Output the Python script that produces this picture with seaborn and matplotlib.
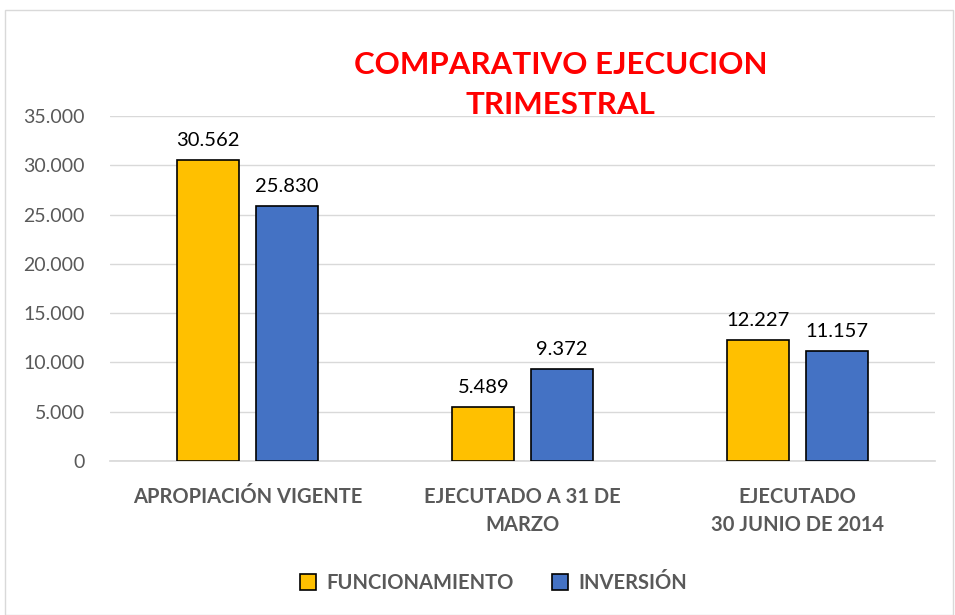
import pandas as pd
import matplotlib.pyplot as plt
import seaborn as sns
from matplotlib.ticker import FuncFormatter
from matplotlib.patches import Rectangle

# Data
categorias = ['APROPIACIÓN VIGENTE', 'EJECUTADO A 31 DE\nMARZO', 'EJECUTADO\n30 JUNIO DE 2014']
funcionamiento = [30562, 5489, 12227]
inversion = [25830, 9372, 11157]
series = ['FUNCIONAMIENTO', 'INVERSIÓN']
colores = ['#FFC000', '#4472C4']

df = pd.DataFrame({
    'categoria': categorias * 2,
    'serie': [series[0]] * 3 + [series[1]] * 3,
    'valor': funcionamiento + inversion,
})

sns.set_theme(style='white')
plt.rcParams['font.family'] = ['Lato', 'DejaVu Sans']

fig = plt.figure(figsize=(9.55, 6.15), dpi=100)
ax = fig.add_axes([110 / 955, 1 - 461 / 615, 825 / 955, 345 / 615])

sns.barplot(data=df, x='categoria', y='valor', hue='serie', palette=colores,
            saturation=1, width=0.57, gap=0.21, edgecolor='black', linewidth=1.2,
            ax=ax, legend=False, zorder=3)

ax.set_xlim(-0.5, 2.5)
ax.set_ylim(0, 35000)
ax.set_yticks(range(0, 35001, 5000))
ax.yaxis.set_major_formatter(FuncFormatter(lambda v, p: f'{int(v):,}'.replace(',', '.')))
ax.grid(axis='y', color='#D9D9D9', linewidth=1, zorder=0)
for s in ax.spines.values():
    s.set_visible(False)
ax.spines['bottom'].set_visible(True)
ax.spines['bottom'].set_color('#D9D9D9')
ax.tick_params(axis='y', labelsize=14, labelcolor='#595959', length=0, pad=18)
ax.tick_params(axis='x', labelsize=14.5, labelcolor='#595959', length=0, pad=19)
for lbl in ax.get_xticklabels():
    lbl.set_fontweight('bold')
    lbl.set_linespacing(1.45)
ax.set_xlabel('')
ax.set_ylabel('')

for cont in ax.containers:
    ax.bar_label(cont, labels=[f'{int(v):,}'.replace(',', '.') for v in cont.datavalues],
                 padding=8, fontsize=14.5, color='black')

fig.text(0.587, 0.862, 'COMPARATIVO EJECUCION\nTRIMESTRAL', ha='center', va='center',
         color='#FF0000', fontsize=22.5, fontweight='bold', linespacing=1.55)

handles = [Rectangle((0, 0), 1, 1, facecolor=c, edgecolor='black', linewidth=1.2) for c in colores]
leg = fig.legend(handles, series, loc='center', bbox_to_anchor=(0.517, 0.052), ncol=2,
                 frameon=False, handlelength=0.8, handleheight=0.8, handletextpad=0.5,
                 columnspacing=1.9, prop={'size': 14.5, 'weight': 'bold'})
for t in leg.get_texts():
    t.set_color('#595959')

fig.patches.append(Rectangle((5 / 955, 0), 948 / 955, 1 - 10 / 615, transform=fig.transFigure,
                             fill=False, edgecolor='#D9D9D9', linewidth=1))

fig.savefig('out.png', dpi=100)
